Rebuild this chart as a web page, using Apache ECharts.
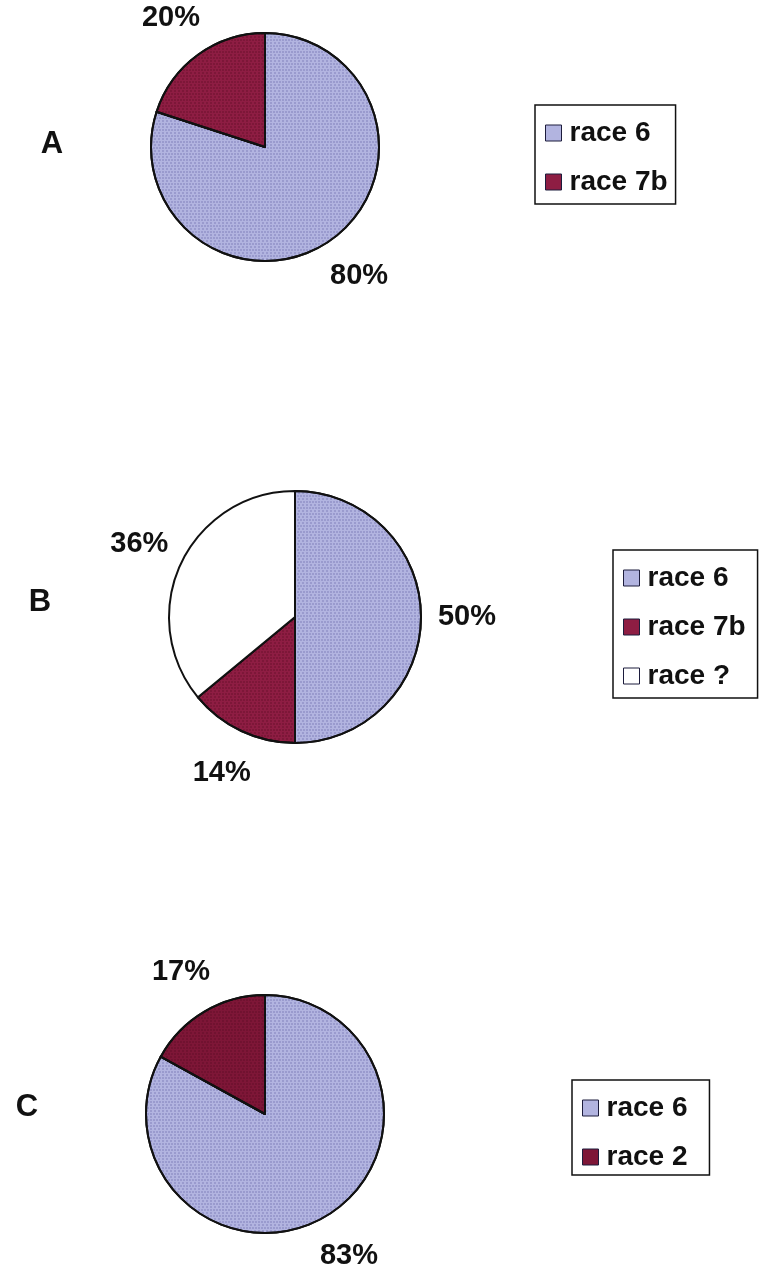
<!DOCTYPE html>
<html>
<head>
<meta charset="utf-8">
<script src="https://cdn.jsdelivr.net/npm/echarts@6/dist/echarts.min.js"></script>
<style>
  html, body { margin: 0; padding: 0; background: #ffffff; }
  #chart { width: 769px; height: 1270px; }
</style>
</head>
<body>
<div id="chart"></div>
<script>
// Race composition per panel (percent of isolates)
const panelLetters = ['A', 'B', 'C'];

const racesA = ['race 6', 'race 7b'];
const valuesA = [80, 20];

const racesB = ['race 6', 'race 7b', 'race ?'];
const valuesB = [50, 14, 36];

const racesC = ['race 6', 'race 2'];
const valuesC = [83, 17];

// Styling
const FONT = '"Liberation Sans", Arial, sans-serif';
const raceColors = {
  'race 6': '#b2b4e0',
  'race 7b': '#8e1d43',
  'race ?': '#ffffff',
  'race 2': '#7e1637'
};
// fine dot screen laid over the filled slices
const raceDots = {
  'race 6': 'rgba(55, 55, 130, 0.45)',
  'race 7b': 'rgba(60, 0, 20, 0.45)',
  'race 2': 'rgba(50, 0, 15, 0.35)'
};

// Layout of each pie: centre, radius, position of the panel letter
const pies = [
  { names: racesA, values: valuesA, center: [265, 147], radius: 114, letter: [52, 144] },
  { names: racesB, values: valuesB, center: [295, 617], radius: 126, letter: [40, 602] },
  { names: racesC, values: valuesC, center: [265, 1114], radius: 119, letter: [27, 1107] }
];
const LABEL_GAP = 46;

function midAngle(values, idx) {
  const total = values.reduce((s, v) => s + v, 0);
  let before = 0;
  for (let i = 0; i < idx; i++) before += values[i];
  return 2 * Math.PI * (before + values[idx] / 2) / total;
}

function sliceStyle(name) {
  const st = { color: raceColors[name] };
  if (raceDots[name]) {
    st.decal = {
      symbol: 'circle',
      symbolSize: 0.8,
      dashArrayX: [[2, 1], [0, 1.5, 2, 0]],
      dashArrayY: [2, 1],
      color: raceDots[name],
      backgroundColor: 'transparent'
    };
  }
  return st;
}

const series = pies.map((p) => ({
  type: 'pie',
  center: p.center,
  radius: p.radius,
  startAngle: 90,
  clockwise: true,
  animation: false,
  silent: true,
  data: p.names.map((n, i) => ({
    name: n,
    value: p.values[i],
    itemStyle: sliceStyle(n)
  })),
  itemStyle: { borderColor: '#111111', borderWidth: 2 },
  label: {
    show: true,
    position: 'outside',
    formatter: '{c}%',
    fontFamily: FONT,
    fontSize: 29,
    fontWeight: 'bold',
    color: '#111111'
  },
  labelLine: { show: false },
  labelLayout: function (params) {
    const a = midAngle(p.values, params.dataIndex);
    const R = p.radius + LABEL_GAP;
    return {
      x: p.center[0] + R * Math.sin(a),
      y: p.center[1] - R * Math.cos(a),
      align: 'center',
      verticalAlign: 'middle'
    };
  }
}));

const legendBase = {
  orient: 'vertical',
  selectedMode: false,
  icon: 'rect',
  itemWidth: 16,
  itemHeight: 16,
  itemGap: 21,
  borderColor: '#111111',
  borderWidth: 1.5,
  borderRadius: 0,
  itemStyle: { borderColor: '#1c1c3c', borderWidth: 1, decal: 'none' },
  textStyle: {
    fontFamily: FONT,
    fontSize: 28,
    fontWeight: 'bold',
    color: '#111111',
    lineHeight: 27,
    padding: [0, 0, 0, 3]
  }
};

const legends = [
  Object.assign({}, legendBase, { data: racesA, left: 535, top: 105, padding: [14, 8, 8, 10] }),
  Object.assign({}, legendBase, { data: racesB, left: 613, top: 550, padding: [14, 12, 8, 10] }),
  Object.assign({}, legendBase, { data: racesC, left: 572, top: 1080, padding: [14, 22, 4, 10] })
];

const letters = pies.map((p, i) => ({
  type: 'text',
  x: p.letter[0],
  y: p.letter[1],
  style: {
    text: panelLetters[i],
    font: 'bold 31px ' + FONT,
    fill: '#111111',
    align: 'center',
    verticalAlign: 'middle'
  }
}));

const chart = echarts.init(document.getElementById('chart'), null, { renderer: 'canvas' });
chart.setOption({
  backgroundColor: '#ffffff',
  animation: false,
  aria: { enabled: false, decal: { show: false } },
  legend: legends,
  series: series,
  graphic: letters
});
</script>
</body>
</html>
